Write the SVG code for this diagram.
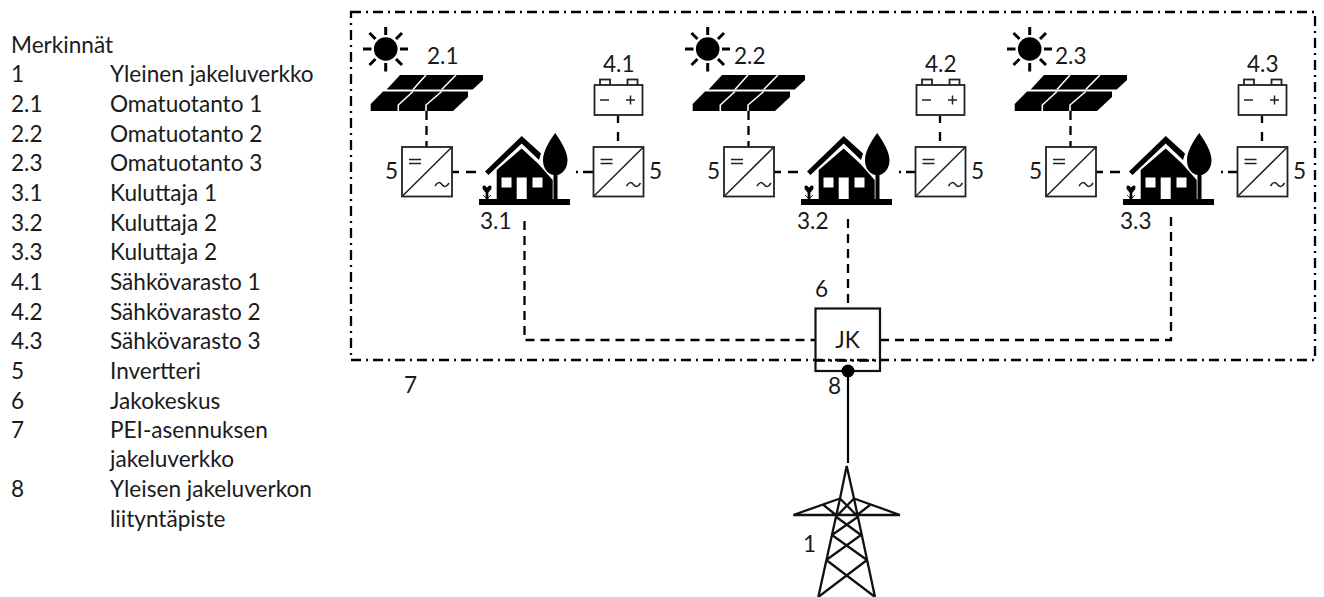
<svg xmlns="http://www.w3.org/2000/svg" width="1324" height="597" viewBox="0 0 1324 597">
<style>
text{font-family:Lato,"Open Sans",sans-serif;font-size:22.600px;fill:#1a1a1a}
.dash{fill:none;stroke:#000;stroke-width:2.300;stroke-dasharray:9 6}
.dd{fill:none;stroke:#000;stroke-width:2.300;stroke-dasharray:10 5 2 5}
.box{fill:#fff;stroke:#222;stroke-width:1.800}
.thin{fill:none;stroke:#222;stroke-width:1.500}
.tw{fill:none;stroke:#111;stroke-width:2.300}
</style>
<defs>
<g id="sun">
<circle cx="385.700" cy="49" r="11.800" fill="#000"/>
<path d="M385.700 27v8M385.700 63v8.500M363 49h8.500M400 49h8M369.500 33l6 6M396 59l6 6M369.500 65l6-6M396 39l6-6" stroke="#000" stroke-width="3" fill="none"/>
</g>
<g id="panel">
<path d="M400 75H483V80L472.700 89.500H386.700z" fill="#000"/>
<path d="M383 91.500H468V97L453 111H370.700V104z" fill="#000"/>
<path d="M413 89.500L426 75M441.700 89.500L456 75M398.300 111V105L413 91.500M426 111V105L441.700 91.500" stroke="#fff" stroke-width="1.600" fill="none"/>
</g>
<g id="inverter">
<rect class="box" x="0" y="0" width="50" height="49.500"/>
<path class="thin" d="M0 49.500L50 0M7 12.500H19M7 16.500H19"/>
<path class="thin" d="M33 39q3.500-6 7-1.500t7-1.500"/>
</g>
<g id="battery">
<rect class="box" x="600" y="79.500" width="10" height="6"/>
<rect class="box" x="627.500" y="79.500" width="10" height="6"/>
<rect class="box" x="594.500" y="85" width="48" height="30"/>
<path class="thin" d="M600 100H609M626 100H635M630.500 95.500V104.500"/>
</g>
<g id="house">
<path d="M485 171.500L521.700 136L541 153.500L539 160L521.700 143.500L488.500 175z" fill="#000"/>
<path d="M521.700 148.500L496.700 170V199H552.700V180L538 163.500z" fill="#000"/>
<rect x="501.500" y="177.500" width="10" height="10" fill="#fff"/>
<rect x="516.700" y="177.500" width="10" height="21.500" fill="#fff"/>
<rect x="532.500" y="177.500" width="10" height="10" fill="#fff"/>
<path d="M555.200 133C549 141 543 152 543 160C543 169 548 174 553.500 175V199H557.500V175C562 174 567.500 169 567.500 160C567.500 152 561 141 555.200 133z" fill="#000"/>
<rect x="479" y="199" width="91" height="6" fill="#000"/>
<path d="M483 186h2l2 2 2-2h2v3l-2.500 3h-.5v7h-2v-7h-.500l-2.500-3zM483 195l3 3M491 195l-3 3" fill="#000" stroke="#000" stroke-width=".8"/>
</g>
</defs>

<g id="legend">
<text x="11" y="53">Merkinnät</text>
<text x="11" y="82">1</text><text x="110" y="82">Yleinen jakeluverkko</text>
<text x="11" y="112">2.1</text><text x="110" y="112">Omatuotanto 1</text>
<text x="11" y="142">2.2</text><text x="110" y="142">Omatuotanto 2</text>
<text x="11" y="171">2.3</text><text x="110" y="171">Omatuotanto 3</text>
<text x="11" y="201">3.1</text><text x="110" y="201">Kuluttaja 1</text>
<text x="11" y="231">3.2</text><text x="110" y="231">Kuluttaja 2</text>
<text x="11" y="260">3.3</text><text x="110" y="260">Kuluttaja 2</text>
<text x="11" y="290">4.1</text><text x="110" y="290">Sähkövarasto 1</text>
<text x="11" y="320">4.2</text><text x="110" y="320">Sähkövarasto 2</text>
<text x="11" y="349">4.3</text><text x="110" y="349">Sähkövarasto 3</text>
<text x="11" y="379">5</text><text x="110" y="379">Invertteri</text>
<text x="11" y="409">6</text><text x="110" y="409">Jakokeskus</text>
<text x="11" y="438">7</text><text x="110" y="438">PEI-asennuksen</text>
<text x="110" y="467">jakeluverkko</text>
<text x="11" y="497">8</text><text x="110" y="497">Yleisen jakeluverkon</text>
<text x="110" y="527">liityntäpiste</text>
</g>

<g id="connectors">
<path class="dd" d="M351 12H1315V360H351z"/>
<path class="dash" d="M426.500 111V147M524.500 221V340H815M848 219V308M880 340H1171V215M748.500 111V147M1070.500 111V147"/>
<path d="M452 172H459M466 172H476M774 172H781M788 172H798M1096 172H1103M1110 172H1120M618 116V123M618 132V141M940 116V123M940 132V141M1262 116V123M1262 132V141" fill="none" stroke="#000" stroke-width="2.300"/>
<path class="dd" d="M593 172H574M916 172H896M1238 172H1218"/>
<path d="M848 371V463" fill="none" stroke="#000" stroke-width="2.200"/>
</g>

<g id="site-1">
<use href="#sun"/><use href="#panel"/><use href="#house"/><use href="#battery"/>
<use href="#inverter" x="402" y="147"/><use href="#inverter" x="593.500" y="147"/>
<text x="427" y="64">2.1</text><text x="603" y="72">4.1</text><text x="385" y="179">5</text><text x="649" y="179">5</text><text x="480" y="229">3.1</text>
</g>
<g id="site-2">
<use href="#sun" x="322"/><use href="#panel" x="322"/><use href="#house" x="322"/><use href="#battery" x="322"/>
<use href="#inverter" x="724" y="147"/><use href="#inverter" x="915.500" y="147"/>
<text x="734" y="64">2.2</text><text x="925" y="72">4.2</text><text x="707" y="179">5</text><text x="971" y="179">5</text><text x="797" y="229">3.2</text>
</g>
<g id="site-3">
<use href="#sun" x="644"/><use href="#panel" x="644"/><use href="#house" x="644"/><use href="#battery" x="644"/>
<use href="#inverter" x="1046" y="147"/><use href="#inverter" x="1237.500" y="147"/>
<text x="1055" y="64">2.3</text><text x="1247" y="72">4.3</text><text x="1029" y="179">5</text><text x="1293" y="179">5</text><text x="1120" y="229">3.3</text>
</g>

<g id="jk">
<rect x="815.500" y="308.500" width="64.500" height="62.500" fill="none" stroke="#111" stroke-width="2.200"/>
<path class="dd" d="M815 360.500H880"/>
<text x="847.500" y="348" text-anchor="middle">JK</text>
<text x="815" y="297">6</text>
</g>
<g id="point-8">
<circle cx="848" cy="371" r="6.500" fill="#000"/>
<text x="828" y="394">8</text>
</g>
<g id="label-7"><text x="404" y="393">7</text></g>
<g id="tower">
<path class="tw" d="M840 498.500L846.700 466L854 498.500L875 597M840 498.500L818.300 597M793.300 515H900M793.300 515L840 498.500M900 515L854 498.500M823.500 505L836 515M870 505L857 515M836 516.700L854 498.500M840 498.500L858 516.700M836 516.700L861 535M858 516.700L832 535M832 535L867 560M861 535L826.300 560M826.300 560L875 597M867 560L818.300 597"/>
<text x="803" y="552">1</text>
</g>
</svg>
